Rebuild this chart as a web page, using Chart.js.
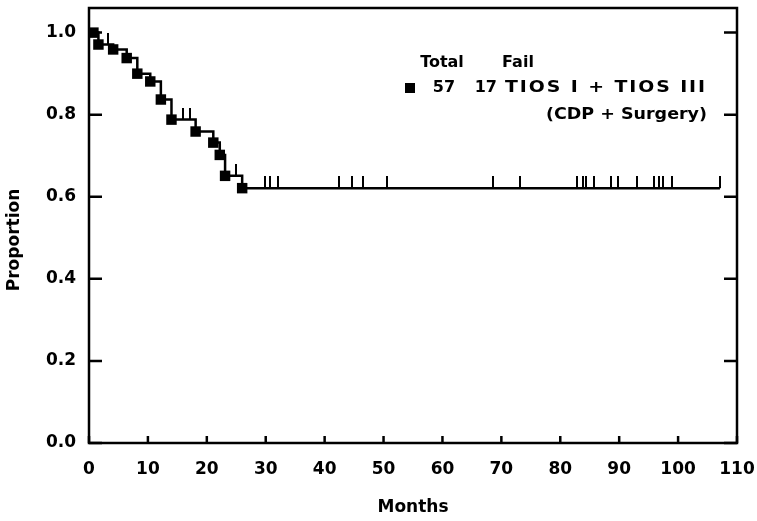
<!DOCTYPE html>
<html>
<head>
<meta charset="utf-8">
<script src="https://cdn.jsdelivr.net/npm/chart.js@4.4.1/dist/chart.umd.min.js"></script>
<style>
  html, body { margin: 0; padding: 0; background: #fff; }
  canvas { display: block; }
</style>
</head>
<body>
<canvas id="km" width="757" height="521"></canvas>
<script>
// Kaplan-Meier curve, TIOS I + TIOS III (CDP + Surgery)

// step function of the estimate (month where the level starts, level)
const stepMonths   = [0, 1.6, 4.1, 6.4, 8.2, 10.4, 12.2, 14.0, 18.1, 21.1, 22.2, 23.1, 26.0, 107.1];
const stepSurvival = [1.0, 0.971, 0.959, 0.938, 0.900, 0.881, 0.837, 0.788, 0.759, 0.732, 0.702, 0.651, 0.621, 0.621];

// filled squares at the failures
const failMonths   = [0.75, 1.6, 4.1, 6.4, 8.2, 10.4, 12.2, 14.0, 18.1, 21.1, 22.2, 23.1, 26.0];
const failSurvival = [1.0, 0.971, 0.959, 0.938, 0.900, 0.881, 0.837, 0.788, 0.759, 0.732, 0.702, 0.651, 0.621];

// censored patients (tick marks)
const censorMonths = [3.3, 16.0, 17.1, 24.9, 29.8, 30.8, 32.0, 42.4, 44.6, 46.5, 50.6, 68.5, 73.2,
                      82.9, 83.8, 84.4, 85.8, 88.6, 89.8, 93.0, 95.9, 96.7, 97.4, 99.0, 107.1];

const xTicks = [0, 10, 20, 30, 40, 50, 60, 70, 80, 90, 100, 110];
const yTicks = [0, 0.2, 0.4, 0.6, 0.8, 1.0];
const yTickLabels = ["0.0", "0.2", "0.4", "0.6", "0.8", "1.0"];

const legendHead  = ["Total", "Fail"];
const legendTotal = "57";
const legendFail  = "17";
const legendLines = ["TIOS I + TIOS III", "(CDP + Surgery)"];

const FONT = "DejaVu Sans";

function survivalAt(t) {
  let s = stepSurvival[0];
  for (let i = 0; i < stepMonths.length; i++) if (stepMonths[i] <= t) s = stepSurvival[i];
  return s;
}

// upward tick used as the censor marker
const censorMark = document.createElement("canvas");
censorMark.width = 2;
censorMark.height = 24;
(() => {
  const c = censorMark.getContext("2d");
  c.fillStyle = "#000";
  c.fillRect(0, 0, 2, 12);
})();

// text stretched a little and spaced out to fill a given width
function wideText(ctx, text, left, y, width) {
  ctx.letterSpacing = "0px";
  const w0 = ctx.measureText(text).width;
  const k = Math.min(1.18, width / w0);
  const sp = Math.max(0, (width / k - w0) / text.length);
  ctx.save();
  ctx.translate(left, y);
  ctx.scale(k, 1);
  ctx.letterSpacing = sp.toFixed(2) + "px";
  ctx.textAlign = "left";
  ctx.fillText(text, 0, 0);
  ctx.restore();
}

const framePlugin = {
  id: "frame",
  afterDraw(chart) {
    const { ctx, chartArea: a, scales } = chart;
    ctx.save();
    ctx.strokeStyle = "#000";
    ctx.lineWidth = 2.5;
    ctx.strokeRect(a.left, a.top, a.right - a.left, a.bottom - a.top);

    // inward tick marks
    ctx.beginPath();
    xTicks.forEach((v) => {
      const px = scales.x.getPixelForValue(v);
      ctx.moveTo(px, a.bottom);
      ctx.lineTo(px, a.bottom - 7);
    });
    yTicks.forEach((v) => {
      const py = scales.y.getPixelForValue(v);
      ctx.moveTo(a.left, py);
      ctx.lineTo(a.left + 13, py);
      ctx.moveTo(a.right, py);
      ctx.lineTo(a.right - 13, py);
    });
    ctx.stroke();

    // y axis title
    ctx.fillStyle = "#000";
    ctx.font = "bold 17px " + FONT;
    ctx.textAlign = "center";
    ctx.textBaseline = "middle";
    ctx.save();
    ctx.translate(15, 240);
    ctx.rotate(-Math.PI / 2);
    ctx.fillText("Proportion", 0, 0);
    ctx.restore();

    // legend block
    ctx.font = "bold 16px " + FONT;
    ctx.textAlign = "center";
    ctx.fillText(legendHead[0], 442, 63);
    ctx.fillText(legendHead[1], 518, 63);
    ctx.fillRect(405, 83, 10, 10);
    ctx.fillText(legendTotal, 444, 88);
    ctx.textAlign = "right";
    ctx.fillText(legendFail, 497, 88);
    wideText(ctx, legendLines[0], 505, 88, 202);
    wideText(ctx, legendLines[1], 546, 115, 161);
    ctx.restore();
  },
};

new Chart(document.getElementById("km"), {
  type: "line",
  data: {
    datasets: [
      {
        data: stepMonths.map((m, i) => ({ x: m, y: stepSurvival[i] })),
        stepped: "before",
        borderColor: "#000",
        borderWidth: 2.5,
        pointRadius: 0,
        fill: false,
      },
      {
        data: failMonths.map((m, i) => ({ x: m, y: failSurvival[i] })),
        showLine: false,
        pointStyle: "rect",
        pointRadius: 7.4,
        backgroundColor: "#000",
        borderWidth: 0,
        clip: false,
      },
      {
        data: censorMonths.map((m) => ({ x: m, y: survivalAt(m) })),
        showLine: false,
        pointStyle: censorMark,
        clip: false,
      },
    ],
  },
  options: {
    responsive: false,
    devicePixelRatio: 1,
    animation: false,
    events: [],
    layout: { padding: { left: 0, top: 8, right: 20, bottom: 0 } },
    plugins: { legend: { display: false }, tooltip: { enabled: false } },
    scales: {
      x: {
        type: "linear",
        min: 0,
        max: 110,
        grid: { display: false, drawTicks: false },
        border: { display: false },
        afterBuildTicks: (s) => { s.ticks = xTicks.map((v) => ({ value: v })); },
        afterFit: (s) => { s.height = 78; s.paddingLeft = 0; s.paddingRight = 0; },
        ticks: {
          color: "#000",
          padding: 16,
          maxRotation: 0,
          font: { family: FONT, size: 17, weight: "bold" },
          callback: (v) => String(v),
        },
        title: {
          display: true,
          text: "Months",
          color: "#000",
          padding: { top: 0, bottom: 3 },
          font: { family: FONT, size: 17, weight: "bold" },
        },
      },
      y: {
        type: "linear",
        min: 0,
        max: 1.06,
        grid: { display: false, drawTicks: false },
        border: { display: false },
        afterBuildTicks: (s) => { s.ticks = yTicks.map((v) => ({ value: v })); },
        afterFit: (s) => { s.width = 89; s.paddingTop = 0; s.paddingBottom = 0; },
        ticks: {
          color: "#000",
          padding: 13,
          font: { family: FONT, size: 17, weight: "bold" },
          callback: (v) => yTickLabels[yTicks.findIndex((t) => Math.abs(t - v) < 1e-6)],
        },
      },
    },
  },
  plugins: [framePlugin],
});
</script>
</body>
</html>
